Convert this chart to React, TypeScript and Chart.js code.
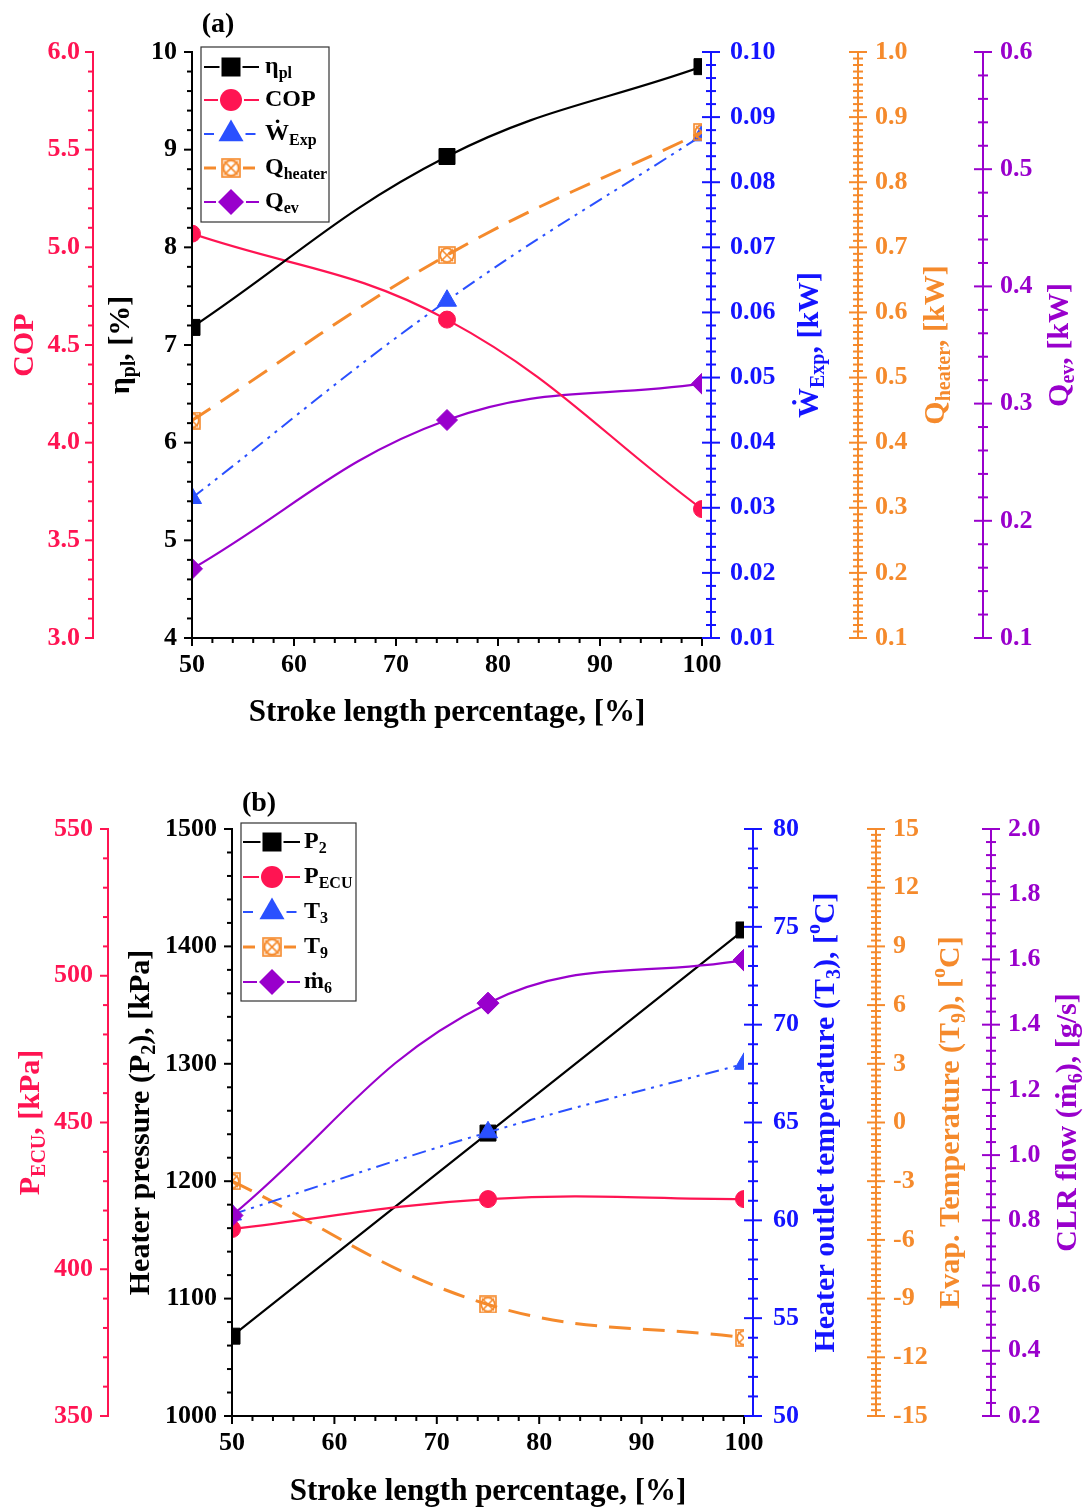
import React, { useEffect, useRef } from 'react';
import { Chart, registerables } from 'chart.js';

Chart.register(...registerables);

const FONT = '"Liberation Serif", "Times New Roman", Times, serif';
const RED = '#ff1452';
const BLUE = '#1414ff';
const BLUE_LINE = '#2a50ff';
const ORANGE = '#f58a2c';
const PURPLE = '#9900cc';
const BLACK = '#000000';

// ---------------- data ----------------
const strokeLength = [50, 75, 100];
const xTicks = [50, 60, 70, 80, 90, 100];

// panel (a)
const etaPl = [7.18, 8.93, 9.85];
const cop = [5.07, 4.63, 3.66];
const wExp = [0.0315, 0.0618, 0.0872];
const qHeater = [0.434, 0.688, 0.877];
const qEv = [0.159, 0.286, 0.317];

const etaTicks = [4, 5, 6, 7, 8, 9, 10];
const copTicks = [3.0, 3.5, 4.0, 4.5, 5.0, 5.5, 6.0];
const wTicks = [0.01, 0.02, 0.03, 0.04, 0.05, 0.06, 0.07, 0.08, 0.09, 0.1];
const qhTicks = [0.1, 0.2, 0.3, 0.4, 0.5, 0.6, 0.7, 0.8, 0.9, 1.0];
const qeTicks = [0.1, 0.2, 0.3, 0.4, 0.5, 0.6];

// panel (b)
const p2 = [1068, 1241, 1414];
const pEcu = [413.7, 423.9, 423.9];
const t3 = [60.3, 64.5, 68.0];
const t9 = [-3.0, -9.3, -11.0];
const m6 = [0.815, 1.466, 1.598];

const p2Ticks = [1000, 1100, 1200, 1300, 1400, 1500];
const pEcuTicks = [350, 400, 450, 500, 550];
const t3Ticks = [50, 55, 60, 65, 70, 75, 80];
const t9Ticks = [-15, -12, -9, -6, -3, 0, 3, 6, 9, 12, 15];
const m6Ticks = [0.2, 0.4, 0.6, 0.8, 1.0, 1.2, 1.4, 1.6, 1.8, 2.0];

// ---------------- types ----------------
type Seg = { t: string; k?: 'sub' | 'sup' };
type AxisSpec = {
  id: string; side: 'left' | 'right'; weight: number; width: number; lineX: number;
  color: string; ticks: number[]; dec: number; minorDiv: number; pad: number;
  cross: boolean; title: Seg[]; titleX: number;
};
type MarkerKind = 'square' | 'circle' | 'triangle' | 'xbox' | 'diamond';
type LegendItem = { segs: Seg[]; color: string; dash: number[]; lw: number; marker: MarkerKind };
type PanelCfg = {
  height: number; padTop: number; xHeight: number; axes: AxisSpec[];
  xTitleY: number; label: string; labelX: number; labelY: number;
  legend: { x: number; y: number; w: number; h: number; rows: number[]; x0: number; x1: number; mx: number; tx: number; items: LegendItem[] };
  datasets: any[];
};

// ---------------- helpers ----------------
function makeXBox(size: number, color: string): HTMLCanvasElement {
  const c = document.createElement('canvas');
  c.width = size; c.height = size;
  const g = c.getContext('2d')!;
  g.strokeStyle = color; g.lineWidth = 1.6;
  const p = 1;
  g.strokeRect(p, p, size - 2 * p, size - 2 * p);
  g.lineWidth = 1.8;
  g.beginPath(); g.arc(size / 2, size / 2, size / 2 - 2.2, 0, Math.PI * 2); g.stroke();
  g.lineWidth = 1.6;
  g.beginPath();
  g.moveTo(p + 2, p + 2); g.lineTo(size - p - 2, size - p - 2);
  g.moveTo(size - p - 2, p + 2); g.lineTo(p + 2, size - p - 2);
  g.stroke();
  return c;
}

function drawRich(ctx: CanvasRenderingContext2D, segs: Seg[], x: number, y: number, size: number, align: 'left' | 'center') {
  const sub = Math.round(size * 0.66);
  const fonts = segs.map(s => `bold ${s.k ? sub : size}px ${FONT}`);
  const ws = segs.map((s, i) => { ctx.font = fonts[i]; return ctx.measureText(s.t).width; });
  const total = ws.reduce((a, b) => a + b, 0);
  let cx = align === 'center' ? x - total / 2 : x;
  ctx.textAlign = 'left';
  segs.forEach((s, i) => {
    ctx.font = fonts[i];
    const dy = s.k === 'sub' ? size * 0.3 : s.k === 'sup' ? -size * 0.36 : 0;
    ctx.fillText(s.t, cx, y + dy);
    cx += ws[i];
  });
}

function drawMarker(ctx: CanvasRenderingContext2D, m: MarkerKind, x: number, y: number, s: number, color: string, xbox: HTMLCanvasElement) {
  ctx.save();
  ctx.setLineDash([]);
  ctx.fillStyle = color;
  switch (m) {
    case 'square': ctx.fillRect(x - s / 2, y - s / 2, s, s); break;
    case 'circle': ctx.beginPath(); ctx.arc(x, y, s / 2, 0, Math.PI * 2); ctx.fill(); break;
    case 'triangle': {
      const h = s * Math.sqrt(3) / 2;
      ctx.beginPath(); ctx.moveTo(x, y - h * 2 / 3); ctx.lineTo(x + s / 2, y + h / 3); ctx.lineTo(x - s / 2, y + h / 3); ctx.closePath(); ctx.fill();
      break;
    }
    case 'diamond':
      ctx.beginPath(); ctx.moveTo(x, y - s / 2); ctx.lineTo(x + s / 2, y); ctx.lineTo(x, y + s / 2); ctx.lineTo(x - s / 2, y); ctx.closePath(); ctx.fill();
      break;
    case 'xbox': ctx.drawImage(xbox, x - s / 2, y - s / 2, s, s); break;
  }
  ctx.restore();
}

const legendSize: Record<MarkerKind, number> = { square: 19, circle: 22, triangle: 25, xbox: 20, diamond: 26 };

function makeDeco(cfg: PanelCfg, xbox: HTMLCanvasElement) {
  return {
    id: 'deco',
    afterDatasetsDraw(chart: any) {
      const ctx = chart.ctx as CanvasRenderingContext2D;
      const ca = chart.chartArea;
      const seg = (x1: number, y1: number, x2: number, y2: number) => { ctx.beginPath(); ctx.moveTo(x1, y1); ctx.lineTo(x2, y2); ctx.stroke(); };
      ctx.save();
      ctx.setLineDash([]);
      ctx.lineWidth = 2;
      ctx.lineCap = 'butt';

      // x axis
      const xs = chart.scales.x;
      ctx.strokeStyle = BLACK;
      seg(ca.left - 1, ca.bottom, ca.right + 1, ca.bottom);
      for (let j = 0; j < xTicks.length; j++) {
        const px = xs.getPixelForValue(xTicks[j]);
        seg(px, ca.bottom, px, ca.bottom + 8);
        if (j < xTicks.length - 1) {
          for (let k = 1; k < 5; k++) {
            const v = xTicks[j] + (xTicks[j + 1] - xTicks[j]) * k / 5;
            const pm = xs.getPixelForValue(v);
            seg(pm, ca.bottom, pm, ca.bottom + 5);
          }
        }
      }

      // y axes
      for (const a of cfg.axes) {
        const s = chart.scales[a.id];
        ctx.strokeStyle = a.color;
        const t0 = a.ticks[0], t1 = a.ticks[a.ticks.length - 1];
        const yTop = s.getPixelForValue(t1), yBot = s.getPixelForValue(t0);
        seg(a.lineX, yTop - 1, a.lineX, yBot + 1);
        for (let j = 0; j < a.ticks.length; j++) {
          const y = s.getPixelForValue(a.ticks[j]);
          if (a.cross) seg(a.lineX - 9, y, a.lineX + 9, y);
          else seg(a.lineX - 8, y, a.lineX, y);
          if (j < a.ticks.length - 1) {
            for (let k = 1; k < a.minorDiv; k++) {
              const v = a.ticks[j] + (a.ticks[j + 1] - a.ticks[j]) * k / a.minorDiv;
              const ym = s.getPixelForValue(v);
              if (a.cross) seg(a.lineX - 5, ym, a.lineX + 5, ym);
              else seg(a.lineX - 5, ym, a.lineX, ym);
            }
          }
        }
        ctx.save();
        ctx.translate(a.titleX, (ca.top + ca.bottom) / 2);
        ctx.rotate(-Math.PI / 2);
        ctx.fillStyle = a.color;
        ctx.textBaseline = 'middle';
        drawRich(ctx, a.title, 0, 0, 30, 'center');
        ctx.restore();
      }

      // x title
      ctx.fillStyle = BLACK;
      ctx.textBaseline = 'alphabetic';
      ctx.font = `bold 31px ${FONT}`;
      ctx.textAlign = 'center';
      ctx.fillText('Stroke length percentage, [%]', (ca.left + ca.right) / 2, cfg.xTitleY);

      // panel label
      ctx.font = `bold 28px ${FONT}`;
      ctx.fillText(cfg.label, cfg.labelX, cfg.labelY);

      // legend
      const L = cfg.legend;
      ctx.fillStyle = '#ffffff';
      ctx.fillRect(L.x, L.y, L.w, L.h);
      ctx.strokeStyle = '#333333';
      ctx.lineWidth = 1.2;
      ctx.strokeRect(L.x, L.y, L.w, L.h);
      L.items.forEach((it, i) => {
        const y = L.rows[i];
        const ms = legendSize[it.marker];
        ctx.strokeStyle = it.color;
        ctx.lineWidth = it.lw;
        ctx.setLineDash(it.dash);
        seg(L.x0, y, L.mx - ms / 2 - 2, y);
        seg(L.mx + ms / 2 + 2, y, L.x1, y);
        ctx.setLineDash([]);
        drawMarker(ctx, it.marker, L.mx, y, ms, it.color, xbox);
        ctx.fillStyle = BLACK;
        ctx.textBaseline = 'middle';
        drawRich(ctx, it.segs, L.tx, y, 24, 'left');
      });
      ctx.restore();
    },
  };
}

const CLIP = { left: 0, right: 0, top: false, bottom: false };

function pts(vals: number[]) {
  return strokeLength.map((x, i) => ({ x, y: vals[i] }));
}

function lineDs(vals: number[], axis: string, color: string, lw: number, dash: number[], style: any, radius: number, tension: number, order: number) {
  return {
    data: pts(vals), yAxisID: axis, xAxisID: 'x', order,
    borderColor: color, borderWidth: lw, borderDash: dash, tension,
    pointStyle: style, pointRadius: radius, pointHoverRadius: radius,
    pointBackgroundColor: color, pointBorderColor: color, pointBorderWidth: 1,
    fill: false, clip: CLIP,
  };
}

const DASH_ORANGE = [22, 12];
const DASH_BLUE = [14, 6, 3, 6, 3, 6];

function buildA(xbox: HTMLCanvasElement): PanelCfg {
  return {
    height: 760, padTop: 52, xHeight: 122, xTitleY: 721, label: '(a)', labelX: 218, labelY: 32,
    axes: [
      { id: 'yCop', side: 'left', weight: 1, width: 100, lineX: 93, color: RED, ticks: copTicks, dec: 1, minorDiv: 5, pad: 20, cross: false, title: [{ t: 'COP' }], titleX: 25 },
      { id: 'yEta', side: 'left', weight: 0, width: 92, lineX: 192, color: BLACK, ticks: etaTicks, dec: 0, minorDiv: 5, pad: 15, cross: false, title: [{ t: 'η' }, { t: 'pl', k: 'sub' }, { t: ', [%]' }], titleX: 121 },
      { id: 'yW', side: 'right', weight: 0, width: 148, lineX: 711, color: BLUE, ticks: wTicks, dec: 2, minorDiv: 5, pad: 28, cross: true, title: [{ t: 'Ẇ' }, { t: 'Exp', k: 'sub' }, { t: ', [kW]' }], titleX: 810 },
      { id: 'yQh', side: 'right', weight: 1, width: 125, lineX: 858, color: ORANGE, ticks: qhTicks, dec: 1, minorDiv: 10, pad: 25, cross: true, title: [{ t: 'Q' }, { t: 'heater', k: 'sub' }, { t: ', [kW]' }], titleX: 936 },
      { id: 'yQe', side: 'right', weight: 2, width: 111, lineX: 983, color: PURPLE, ticks: qeTicks, dec: 1, minorDiv: 5, pad: 25, cross: true, title: [{ t: 'Q' }, { t: 'ev', k: 'sub' }, { t: ', [kW]' }], titleX: 1060 },
    ],
    legend: {
      x: 201, y: 47, w: 128, h: 175, rows: [67, 100, 134, 168, 202], x0: 204, x1: 259, mx: 231, tx: 265,
      items: [
        { segs: [{ t: 'η' }, { t: 'pl', k: 'sub' }], color: BLACK, dash: [], lw: 2, marker: 'square' },
        { segs: [{ t: 'COP' }], color: RED, dash: [], lw: 2, marker: 'circle' },
        { segs: [{ t: 'Ẇ' }, { t: 'Exp', k: 'sub' }], color: BLUE_LINE, dash: [10, 5], lw: 2, marker: 'triangle' },
        { segs: [{ t: 'Q' }, { t: 'heater', k: 'sub' }], color: ORANGE, dash: [12, 5], lw: 3, marker: 'xbox' },
        { segs: [{ t: 'Q' }, { t: 'ev', k: 'sub' }], color: PURPLE, dash: [], lw: 2, marker: 'diamond' },
      ],
    },
    datasets: [
      lineDs(etaPl, 'yEta', BLACK, 2.2, [], 'rect', 11.3, 0.4, 0),
      lineDs(cop, 'yCop', RED, 2.2, [], 'circle', 8.5, 0.4, 0),
      lineDs(wExp, 'yW', BLUE_LINE, 2, DASH_BLUE, 'triangle', 11, 0.4, 1),
      lineDs(qHeater, 'yQh', ORANGE, 3, DASH_ORANGE, xbox, 9, 0.4, 0),
      lineDs(qEv, 'yQe', PURPLE, 2.2, [], 'rectRot', 10.5, 0.4, 0),
    ],
  };
}

function buildB(xbox: HTMLCanvasElement): PanelCfg {
  return {
    height: 748, padTop: 69, xHeight: 92, xTitleY: 740, label: '(b)', labelX: 259, labelY: 51,
    axes: [
      { id: 'yPe', side: 'left', weight: 1, width: 115, lineX: 108, color: RED, ticks: pEcuTicks, dec: 0, minorDiv: 5, pad: 22, cross: false, title: [{ t: 'P' }, { t: 'ECU', k: 'sub' }, { t: ', [kPa]' }], titleX: 31 },
      { id: 'yP2', side: 'left', weight: 0, width: 117, lineX: 232, color: BLACK, ticks: p2Ticks, dec: 0, minorDiv: 5, pad: 15, cross: false, title: [{ t: 'Heater pressure (P' }, { t: '2', k: 'sub' }, { t: '), [kPa]' }], titleX: 141 },
      { id: 'yT3', side: 'right', weight: 0, width: 124, lineX: 753, color: BLUE, ticks: t3Ticks, dec: 0, minorDiv: 5, pad: 29, cross: true, title: [{ t: 'Heater outlet temperature (T' }, { t: '3', k: 'sub' }, { t: '), [' }, { t: 'o', k: 'sup' }, { t: 'C]' }], titleX: 826 },
      { id: 'yT9', side: 'right', weight: 1, width: 115, lineX: 876, color: ORANGE, ticks: t9Ticks, dec: 0, minorDiv: 10, pad: 25, cross: true, title: [{ t: 'Evap. Temperature (T' }, { t: '9', k: 'sub' }, { t: '), [' }, { t: 'o', k: 'sup' }, { t: 'C]' }], titleX: 951 },
      { id: 'yM6', side: 'right', weight: 2, width: 103, lineX: 991, color: PURPLE, ticks: m6Ticks, dec: 1, minorDiv: 5, pad: 25, cross: true, title: [{ t: 'CLR flow (ṁ' }, { t: '6', k: 'sub' }, { t: '), [g/s]' }], titleX: 1068 },
    ],
    legend: {
      x: 241, y: 63, w: 115, h: 178, rows: [82, 117, 152, 187, 222], x0: 243, x1: 300, mx: 272, tx: 304,
      items: [
        { segs: [{ t: 'P' }, { t: '2', k: 'sub' }], color: BLACK, dash: [], lw: 2, marker: 'square' },
        { segs: [{ t: 'P' }, { t: 'ECU', k: 'sub' }], color: RED, dash: [], lw: 2, marker: 'circle' },
        { segs: [{ t: 'T' }, { t: '3', k: 'sub' }], color: BLUE_LINE, dash: [10, 5], lw: 2, marker: 'triangle' },
        { segs: [{ t: 'T' }, { t: '9', k: 'sub' }], color: ORANGE, dash: [12, 5], lw: 3, marker: 'xbox' },
        { segs: [{ t: 'ṁ' }, { t: '6', k: 'sub' }], color: PURPLE, dash: [], lw: 2, marker: 'diamond' },
      ],
    },
    datasets: [
      lineDs(p2, 'yP2', BLACK, 2.2, [], 'rect', 11.3, 0.4, 1),
      lineDs(pEcu, 'yPe', RED, 2.2, [], 'circle', 8.5, 0.4, 0),
      lineDs(t3, 'yT3', BLUE_LINE, 2, DASH_BLUE, 'triangle', 11, 0.4, 0),
      lineDs(t9, 'yT9', ORANGE, 3, DASH_ORANGE, xbox, 9, 0.4, 1),
      lineDs(m6, 'yM6', PURPLE, 2.2, [], 'rectRot', 11, 0.4, -1),
    ],
  };
}

function makeConfig(cfg: PanelCfg): any {
  const tickFont = { family: FONT, size: 26, weight: 'bold' as const };
  const scales: any = {
    x: {
      type: 'linear', position: 'bottom', min: xTicks[0], max: xTicks[xTicks.length - 1],
      afterBuildTicks: (s: any) => { s.ticks = xTicks.map(v => ({ value: v })); },
      afterFit: (s: any) => { s.height = cfg.xHeight; },
      grid: { display: false, drawTicks: false }, border: { display: false },
      ticks: { padding: 12, color: BLACK, font: tickFont, autoSkip: false, maxRotation: 0, callback: (v: any) => String(v) },
    },
  };
  for (const a of cfg.axes) {
    scales[a.id] = {
      type: 'linear', position: a.side, weight: a.weight,
      min: a.ticks[0], max: a.ticks[a.ticks.length - 1],
      afterBuildTicks: (s: any) => { s.ticks = a.ticks.map(v => ({ value: v })); },
      afterFit: (s: any) => { s.width = a.width; },
      grid: { display: false, drawTicks: false }, border: { display: false },
      ticks: { padding: a.pad, color: a.color, font: tickFont, autoSkip: false, callback: (v: any) => Number(v).toFixed(a.dec) },
    };
  }
  return {
    type: 'line',
    data: { datasets: cfg.datasets },
    options: {
      animation: false,
      responsive: false,
      maintainAspectRatio: false,
      devicePixelRatio: 1,
      events: [],
      layout: { padding: { top: cfg.padTop, left: 0, right: 0, bottom: 0 } },
      plugins: { legend: { display: false }, tooltip: { enabled: false }, title: { display: false } },
      scales,
    },
  };
}

function Panel({ which }: { which: 'a' | 'b' }) {
  const ref = useRef<HTMLCanvasElement>(null);
  const h = which === 'a' ? 760 : 748;
  useEffect(() => {
    const xbox = makeXBox(18, ORANGE);
    const cfg = which === 'a' ? buildA(xbox) : buildB(xbox);
    const config = makeConfig(cfg);
    config.plugins = [makeDeco(cfg, xbox)];
    const chart = new Chart(ref.current!, config);
    return () => chart.destroy();
  }, [which]);
  return <canvas ref={ref} width={1086} height={h} style={{ display: 'block', width: '1086px', height: `${h}px` }} />;
}

export default function App() {
  useEffect(() => {
    document.body.style.margin = '0';
    document.body.style.background = '#ffffff';
  }, []);
  return (
    <div style={{ width: 1086, background: '#ffffff' }}>
      <Panel which="a" />
      <Panel which="b" />
    </div>
  );
}
